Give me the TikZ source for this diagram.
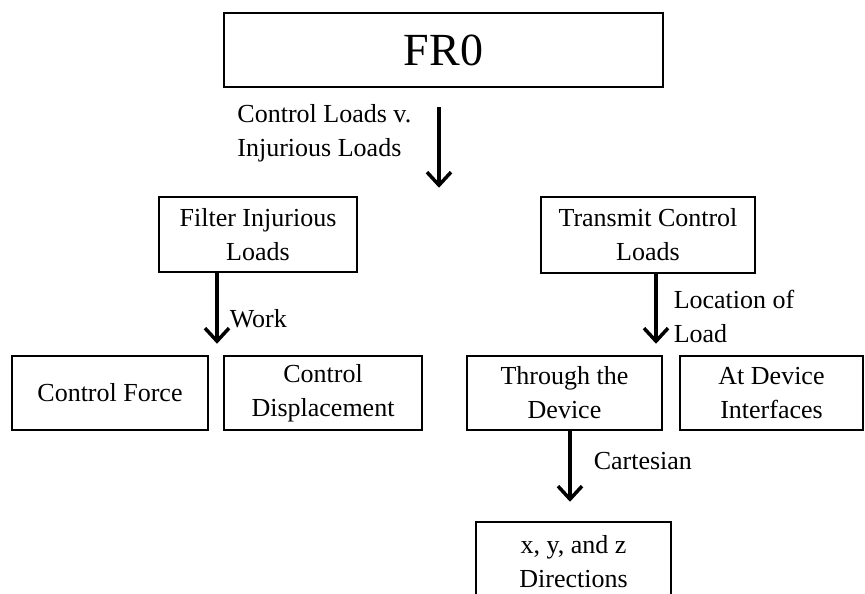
\documentclass[tikz,border=0pt]{standalone}
\usepackage{fontspec}
\setmainfont{Liberation Serif}
\usetikzlibrary{arrows.meta}

\tikzset{
  box/.style={draw,line width=2.5pt,align=center,minimum height=74pt,inner sep=2pt,
    font=\fontsize{26}{34}\selectfont},
  arr/.style={line width=3.5pt,-{Straight Barb[length=13pt,width=24pt]}},
  lbl/.style={align=left,inner sep=0pt,font=\fontsize{26}{34}\selectfont},
}

\begin{document}
\begin{tikzpicture}[x=1pt,y=-1pt]
\path[use as bounding box,clip] (0,0) rectangle (865,594);
% boxes
\node[box,minimum width=439pt,font=\fontsize{46}{50}\selectfont] (fr0) at (443.5,50) {FR0};
\node[box,minimum width=198pt,minimum height=75pt] (filt) at (258,234.5) {Filter Injurious\\Loads};
\node[box,minimum width=214pt,minimum height=76pt] (trans) at (648,235) {Transmit Control\\Loads};
\node[box,minimum width=196pt] (cf) at (110,393) {Control Force};
\node[box,minimum width=198pt] (cd) at (323,393) {Control\\Displacement};
\node[box,minimum width=195pt] (thr) at (564.5,393) {Through the\\Device};
\node[box,minimum width=183pt] (atd) at (771.5,393) {At Device\\Interfaces};
\node[box,minimum width=195pt,minimum height=80pt] (xyz) at (573.5,562) {x, y, and z\\Directions};
% arrow columns
\coordinate (c1) at (439,0);
\coordinate (c2) at (217,0);
\coordinate (c3) at (656,0);
\coordinate (c4) at (570,0);
% arrows
\draw[arr,shorten <=19pt,shorten >=8pt] (fr0.south -| c1) -- (filt.north -| c1)
  node[lbl,midway,left=26pt,yshift=9pt] (l1) {Control Loads v.\\Injurious Loads};
\draw[arr,shorten >=11pt] (filt.south -| c2) -- (cf.north -| c2)
  node[lbl,midway,right=11pt,yshift=-5pt] (l2) {Work};
\draw[arr,shorten >=11pt] (trans.south -| c3) -- (thr.north -| c3)
  node[lbl,midway,right=16pt,yshift=-2pt] (l3) {Location of\\Load};
\draw[arr,shorten >=19pt] (thr.south -| c4) -- (xyz.north -| c4)
  node[lbl,midway,right=22pt,yshift=15pt] (l4) {Cartesian};
\end{tikzpicture}
\end{document}
